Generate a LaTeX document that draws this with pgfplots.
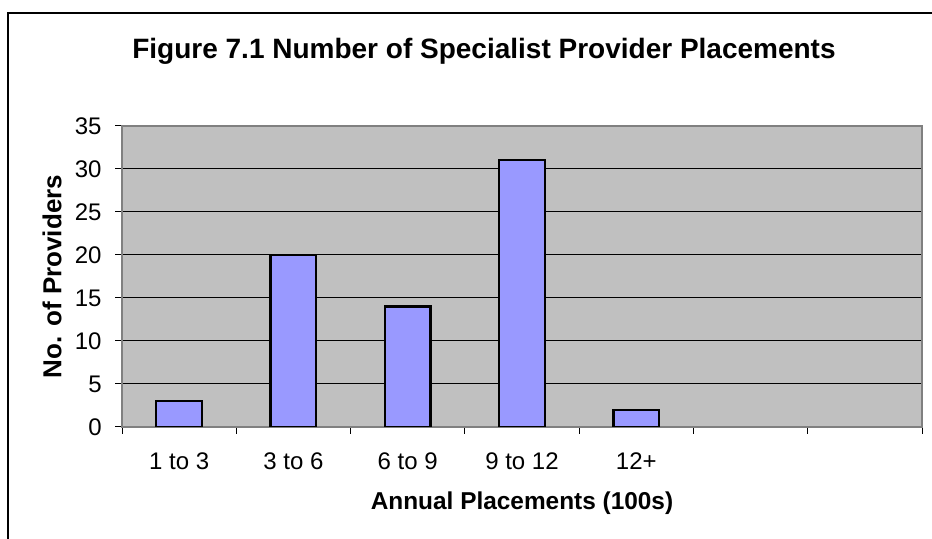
\documentclass[border=0pt]{standalone}
\usepackage{pgfplots}
\pgfplotsset{compat=1.18}
\usepackage{fontspec}
\setmainfont{Liberation Sans}
\definecolor{plotbg}{HTML}{C0C0C0}
\definecolor{barfill}{HTML}{9999FF}
\definecolor{frameg}{HTML}{808080}
\begin{document}
\begin{tikzpicture}
\path[use as bounding box] (0,0) rectangle (466pt,269.5pt);
\draw[black, line width=1pt] (4pt,0) -- (4pt,263pt) -- (466pt,263pt);
\node[font=\fontsize{14}{16}\selectfont\bfseries] at (242pt,244pt) {Figure 7.1 Number of Specialist Provider Placements};
\begin{axis}[
  at={(61pt,56pt)}, anchor=south west,
  scale only axis, width=400pt, height=150.5pt,
  xmin=-0.5, xmax=6.5, ymin=0, ymax=35,
  axis background/.style={fill=plotbg},
  axis line style={frameg, line width=0.75pt},
  /pgf/number format/assume math mode=true,
  ytick={0,5,...,35},
  ymajorgrids, major grid style={black, line width=0.5pt},
  xtick={-0.5,0.5,...,6.5}, xticklabels={},
  extra x ticks={0,1,2,3,4},
  extra x tick labels={1 to 3, 3 to 6, 6 to 9, 9 to 12, 12+},
  extra x tick style={major tick length=0pt, grid=none},
  tick align=outside, major tick length=3.5pt,
  tick pos=left,
  tick style={black, line width=0.5pt},
  ticklabel style={font=\fontsize{12}{14}\selectfont},
  xticklabel style={anchor=center, yshift=-17pt},
  yticklabel style={anchor=east, inner sep=0pt, xshift=-6.5pt},
  xlabel={Annual Placements (100s)},
  ylabel={No. of Providers},
  xlabel style={font=\fontsize{12.2}{14}\selectfont\bfseries, at={(axis description cs:0.5,-0.2525)}, anchor=center},
  ylabel style={font=\fontsize{13}{15}\selectfont\bfseries, at={(axis description cs:-0.0875,0.5)}, anchor=center},
]
\addplot[ybar, bar width=0.4, fill=barfill, draw=black, line width=1.1pt] coordinates {(0,3) (1,20) (2,14) (3,31) (4,2)};
\end{axis}
\end{tikzpicture}
\end{document}
